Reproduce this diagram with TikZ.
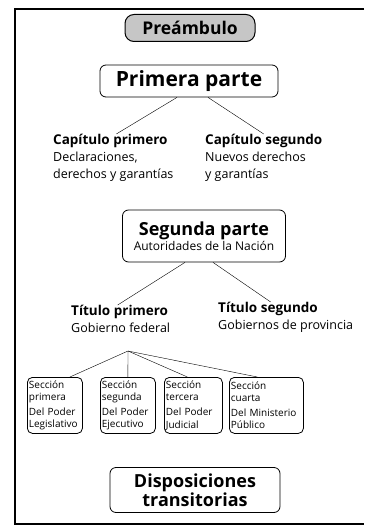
\documentclass[tikz,border=0pt]{standalone}
\usepackage{fontspec}
\setmainfont{Open Sans}
\usetikzlibrary{calc,positioning}

\begin{document}
\begin{tikzpicture}[x=1pt,y=-1pt,
  caja/.style={draw,rounded corners=6pt,line width=0.8pt,inner sep=2pt},
  titulo/.style={font=\bfseries\fontsize{21}{23}\selectfont},
  texto/.style={align=left,anchor=north west,inner sep=0pt,font=\fontsize{12.5}{17}\selectfont},
  seccion/.style={caja,rounded corners=5pt,anchor=north west,align=left,inner sep=1.5pt,
    minimum height=56pt,font=\fontsize{10}{12.2}\selectfont}]
  \useasboundingbox (0,0) rectangle (364,527);
  \draw[line width=1.4pt] (364,9) -- (15,9) -- (15,524) -- (364,524);
  \node[caja,fill=gray!45,line width=1pt,rounded corners=9pt,minimum width=130pt,minimum height=27pt,
    font=\bfseries\fontsize{17.5}{19}\selectfont] (pre) at (190,28) {Preámbulo};
  \node[caja,titulo,minimum width=178pt,minimum height=32pt] (pp) at (189,81) {Primera parte};
  \node[texto] (cap1) at (53,134) {\textbf{\fontsize{13.5}{17}\selectfont Capítulo primero}\\Declaraciones,\\derechos y garantías};
  \node[texto] (cap2) at (205,134) {\textbf{\fontsize{13.5}{17}\selectfont Capítulo segundo}\\Nuevos derechos\\y garantías};
  \draw ([xshift=-12pt]pp.south) -- ([xshift=3pt]cap1.north);
  \draw ([xshift=19pt]pp.south) -- ([xshift=0pt]cap2.north);
  \node[caja,minimum width=163pt,minimum height=52pt,align=center] (sp) at (204,236)
    {\textbf{\fontsize{18}{20}\selectfont Segunda parte}\\[1pt]\fontsize{12}{14}\selectfont Autoridades de la Nación};
  \node[texto] (tit1) at (71,305) {\textbf{\fontsize{13.5}{17}\selectfont Título primero}\\Gobierno federal};
  \node[texto] (tit2) at (218,302) {\textbf{\fontsize{13.5}{17}\selectfont Título segundo}\\Gobiernos de provincia};
  \draw ([xshift=-19pt]sp.south) -- ([xshift=-3pt]tit1.north);
  \draw ([xshift=9pt]sp.south) -- ([xshift=-15pt]tit2.north);
  \coordinate (fan) at (128,351);
  \node[seccion,text width=52pt] (s1) at (27,377) {Sección\\primera\\[3pt]Del Poder\\Legislativo};
  \node[seccion,text width=52pt] (s2) at (100,377) {Sección\\segunda\\[3pt]Del Poder\\Ejecutivo};
  \node[seccion,text width=55pt] (s3) at (164,377) {Sección\\tercera\\[3pt]Del Poder\\Judicial};
  \node[seccion,text width=71pt] (s4) at (229,377) {Sección\\cuarta\\[3pt]Del Ministerio\\Público};
  \draw (fan) -- ([xshift=15pt]s1.north);
  \draw (fan) -- (s2.north);
  \draw (fan) -- ([xshift=-6pt]s3.north);
  \draw (fan) -- ([xshift=-9pt]s4.north);
  \node[caja,align=center,minimum width=170pt,minimum height=45pt,
    font=\bfseries\fontsize{18}{19}\selectfont] (disp) at (195,490) {Disposiciones\\transitorias};
\end{tikzpicture}
\end{document}
